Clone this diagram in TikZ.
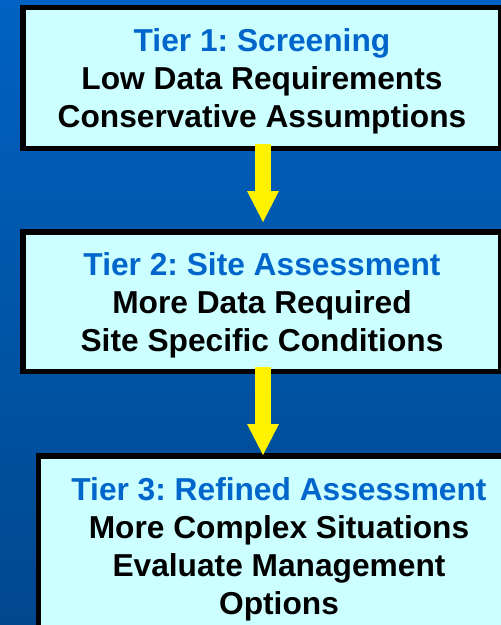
\documentclass[tikz,border=0pt]{standalone}
\usepackage{fontspec}
\setmainfont{Liberation Sans}
\usetikzlibrary{arrows.meta, positioning}

\definecolor{bgtop}{RGB}{0,98,194}
\definecolor{bgbottom}{RGB}{0,72,142}
\definecolor{boxfill}{RGB}{204,255,255}
\definecolor{tierblue}{RGB}{0,102,204}
\newcommand{\tiername}[1]{\rule{0pt}{30pt}\textcolor{tierblue}{#1}}

\begin{document}
\frenchspacing
\begin{tikzpicture}[
    x=1pt, y=-1pt,
    tier/.style={draw, line width=5.5pt, fill=boxfill, outer sep=0pt, align=center,
        font=\fontsize{31.7}{38}\selectfont\bfseries},
    flow/.style={yellow, line width=16pt, -{Triangle[width=32pt, length=31pt, line width=0pt]}}
]

\useasboundingbox (0, 0) rectangle (501, 625);
\fill[top color=bgtop, bottom color=bgbottom] (0, 0) rectangle (501, 625);

\node (Tier1) at (262, 78) [tier, minimum width=478pt, minimum height=141pt]
    {\tiername{Tier 1: Screening}\\Low Data Requirements\\Conservative Assumptions};
\node (Tier2) at (262, 301.75) [tier, minimum width=478pt, minimum height=139.5pt]
    {\tiername{Tier 2: Site Assessment}\\More Data Required\\Site Specific Conditions};
\node (Tier3) at (279, 546) [tier, minimum width=481pt, minimum height=180pt]
    {\tiername{Tier 3: Refined Assessment}\\More Complex Situations\\Evaluate Management\\Options};

\draw[flow, shorten <=-4.5pt, shorten >=10pt] ([xshift=1pt]Tier1.south) -- ([xshift=1pt]Tier2.north);
\draw[flow, shorten <=-4.5pt, shorten >=1pt] ([xshift=1pt]Tier2.south) -- ([xshift=-16pt]Tier3.north);

\end{tikzpicture}
\end{document}
